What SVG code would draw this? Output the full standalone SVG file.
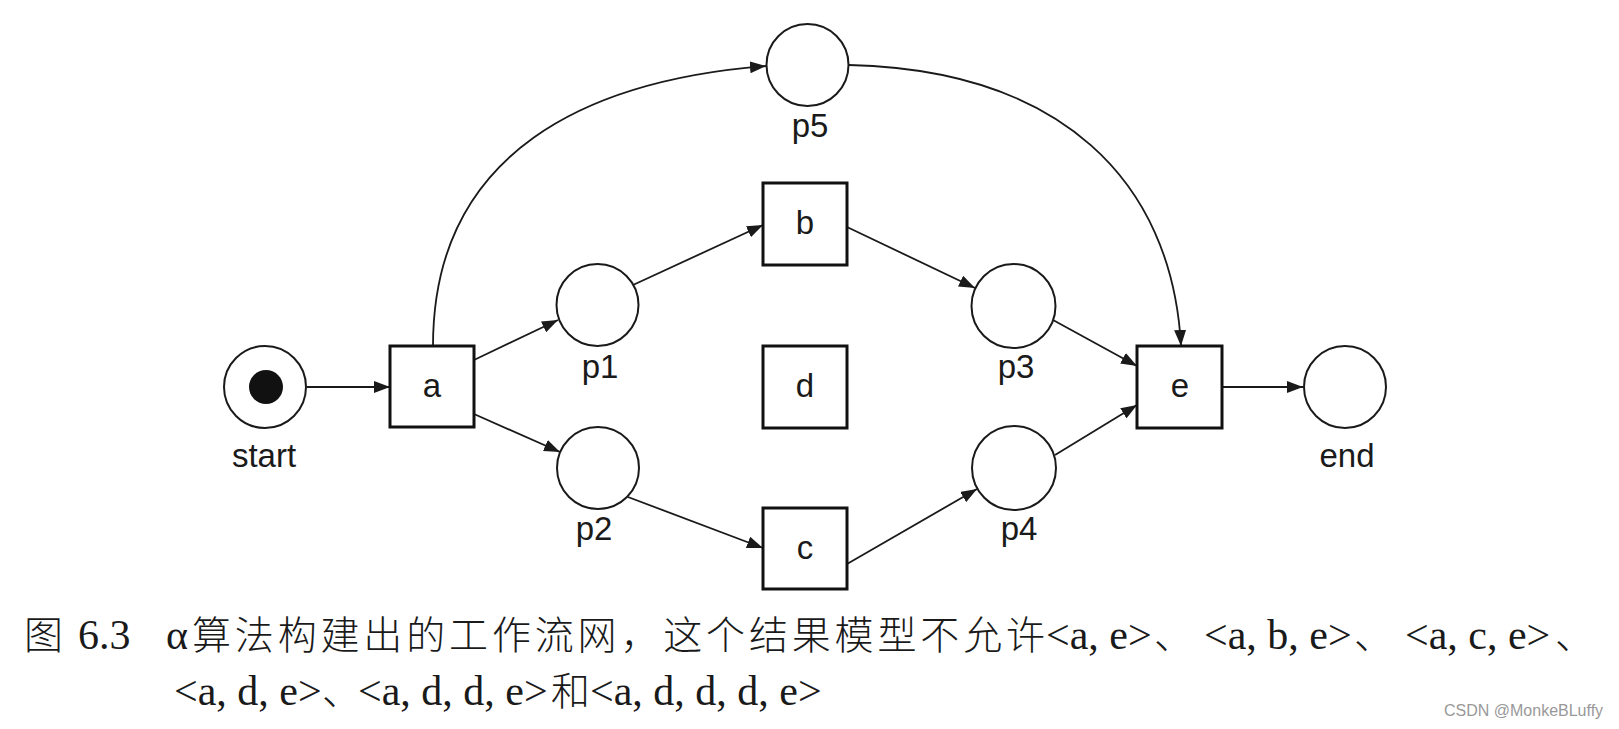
<svg xmlns="http://www.w3.org/2000/svg" width="1619" height="729" viewBox="0 0 1619 729">
<defs>
<style>
.place{fill:#fff;stroke:#1a1a1a;stroke-width:2}
.trans{fill:#fff;stroke:#111;stroke-width:3}
.lbl{font-family:"Liberation Sans",Arial,sans-serif;font-size:33px;fill:#1a1a1a;text-anchor:middle}
.edge{fill:none;stroke:#1a1a1a;stroke-width:1.8;marker-end:url(#arr)}
.cap{font-family:"Liberation Serif","Noto Sans CJK SC",serif;font-size:42px;fill:#1a1a1a}
.cjk{font-family:"Noto Sans CJK SC","Liberation Serif",sans-serif;font-size:39px;fill:#1a1a1a;font-weight:300}
.wm{font-family:"Liberation Sans",Arial,sans-serif;font-size:16px;fill:#999}
</style>
<marker id="arr" markerUnits="userSpaceOnUse" markerWidth="17" markerHeight="12" refX="16" refY="6" orient="auto">
<path d="M0,0 L16,6 L0,12 z" fill="#1a1a1a"/>
</marker>
</defs>
<rect width="1619" height="729" fill="#fff"/>
<g id="connectors">
<path class="edge" d="M307,387 L390,387"/>
<path class="edge" d="M474,360 L558,320"/>
<path class="edge" d="M474,414 L560,452"/>
<path class="edge" d="M633,285 L763,225"/>
<path class="edge" d="M847,227 L975,288"/>
<path class="edge" d="M1053,320 L1137,366"/>
<path class="edge" d="M1055,455 L1137,405"/>
<path class="edge" d="M1222,387 L1303,387"/>
<path class="edge" d="M628,497 L763,548"/>
<path class="edge" d="M847,564 L977,489"/>
<path class="edge" d="M433,346 C433,150 590,80 766,66"/>
<path class="edge" d="M849,65 C1060,70 1172,180 1181,346"/>
</g>
<g id="start"><circle class="place" cx="265" cy="387" r="41"/><circle cx="266" cy="387" r="17" fill="#111"/><text class="lbl" x="264" y="467">start</text></g>
<g id="a"><rect class="trans" x="390" y="346" width="84" height="81"/><text class="lbl" x="432" y="397">a</text></g>
<g id="p1"><circle class="place" cx="597.5" cy="305" r="41"/><text class="lbl" x="600" y="378">p1</text></g>
<g id="p2"><circle class="place" cx="598" cy="468" r="41"/><text class="lbl" x="594" y="540">p2</text></g>
<g id="p5"><circle class="place" cx="807.5" cy="65" r="41"/><text class="lbl" x="810" y="137">p5</text></g>
<g id="b"><rect class="trans" x="763" y="183" width="84" height="82"/><text class="lbl" x="805" y="234">b</text></g>
<g id="d"><rect class="trans" x="763" y="346" width="84" height="82"/><text class="lbl" x="805" y="397">d</text></g>
<g id="c"><rect class="trans" x="763" y="508" width="84" height="81"/><text class="lbl" x="805" y="559">c</text></g>
<g id="p3"><circle class="place" cx="1013.5" cy="306" r="42"/><text class="lbl" x="1016" y="378">p3</text></g>
<g id="p4"><circle class="place" cx="1014" cy="468" r="42"/><text class="lbl" x="1019" y="540">p4</text></g>
<g id="e"><rect class="trans" x="1137" y="346" width="85" height="82"/><text class="lbl" x="1180" y="397">e</text></g>
<g id="end"><circle class="place" cx="1345" cy="387" r="41"/><text class="lbl" x="1347" y="467">end</text></g>
<g id="caption">
<text class="cjk" x="24" y="649">图</text>
<text class="cap" x="78" y="649">6.3</text>
<text class="cap" x="166" y="649">α</text>
<text class="cjk" x="192" y="649" textLength="853" lengthAdjust="spacing">算法构建出的工作流网，这个结果模型不允许</text>
<text class="cap" x="1046" y="649">&lt;a, e&gt;</text>
<text class="cjk" x="1154" y="649">、</text>
<text class="cap" x="1204" y="649">&lt;a, b, e&gt;</text>
<text class="cjk" x="1354" y="649">、</text>
<text class="cap" x="1405" y="649">&lt;a, c, e&gt;</text>
<text class="cjk" x="1555" y="649">、</text>
<text class="cap" x="174" y="705">&lt;a, d, e&gt;</text>
<text class="cjk" x="322" y="705">、</text>
<text class="cap" x="358" y="705">&lt;a, d, d, e&gt;</text>
<text class="cjk" x="551" y="705">和</text>
<text class="cap" x="590" y="705">&lt;a, d, d, d, e&gt;</text>
</g>
<text class="wm" x="1444" y="716">CSDN @MonkeBLuffy</text>
</svg>
